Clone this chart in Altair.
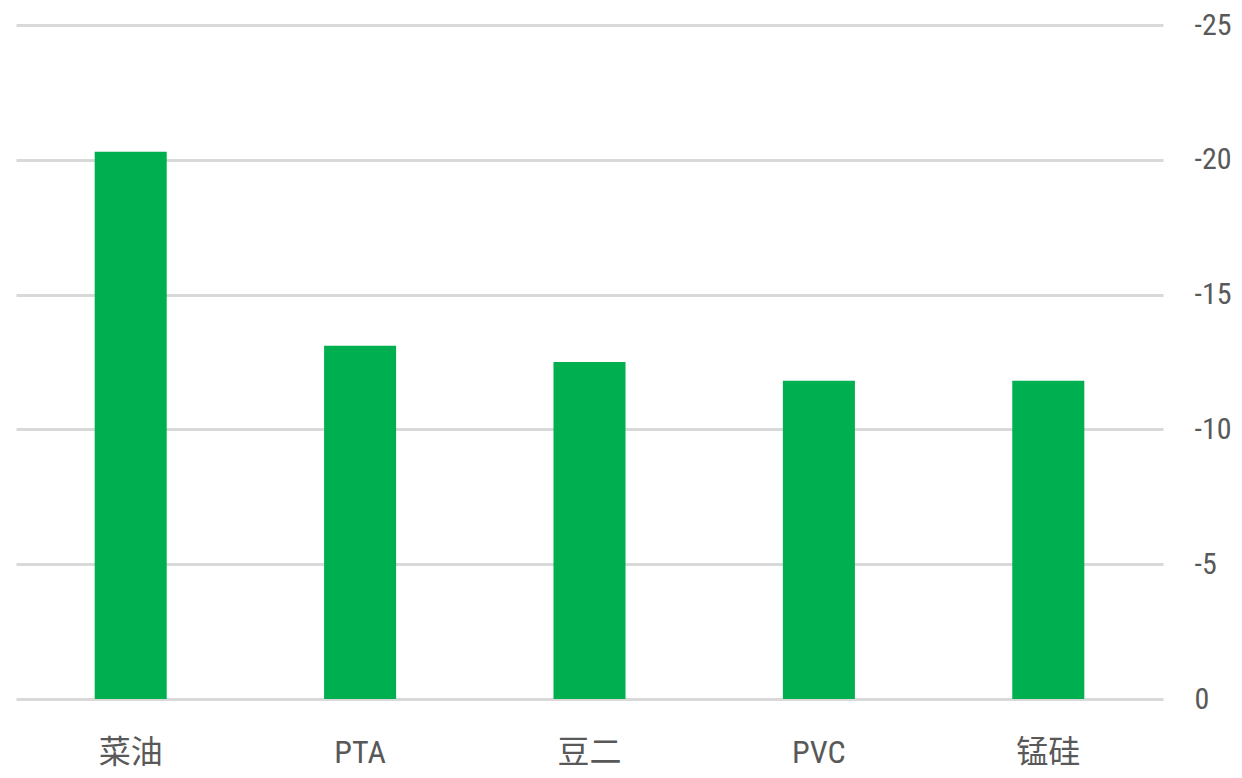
import altair as alt
import pandas as pd

categories = ["菜油", "PTA", "豆二", "PVC", "锰硅"]
values = [-20.3, -13.1, -12.5, -11.8, -11.8]
y_ticks = [0, -5, -10, -15, -20, -25]

df = pd.DataFrame({"cat": categories, "val": values})

font = "Roboto Condensed, Noto Sans CJK SC, sans-serif"

chart = alt.Chart(df).mark_bar(color="#00B050").encode(
    x=alt.X("cat:N", sort=categories, title=None,
            scale=alt.Scale(paddingInner=0.686, paddingOuter=0.343),
            axis=alt.Axis(labelAngle=0, labelFontSize=32, labelColor="#595959",
                          labelFont=font, domain=False, ticks=False,
                          labelPadding=38, grid=False)),
    y=alt.Y("val:Q", title=None,
            scale=alt.Scale(domain=[-25, 0], reverse=True, nice=False),
            axis=alt.Axis(orient="right", values=y_ticks, labelFontSize=30,
                          labelColor="#595959", labelFont=font, domain=False,
                          ticks=False, labelPadding=31, labelAlign="left",
                          labelExpr="'' + datum.value",
                          gridColor="#d9d9d9", gridWidth=3)),
).properties(
    width=1147, height=674,
    autosize=alt.AutoSizeParams(type="none"),
    padding={"left": 8, "top": 17, "right": 71, "bottom": 71},
).configure(background="white").configure_view(stroke=None)

chart.save("out.html", embed_options={"renderer": "svg", "actions": False})
